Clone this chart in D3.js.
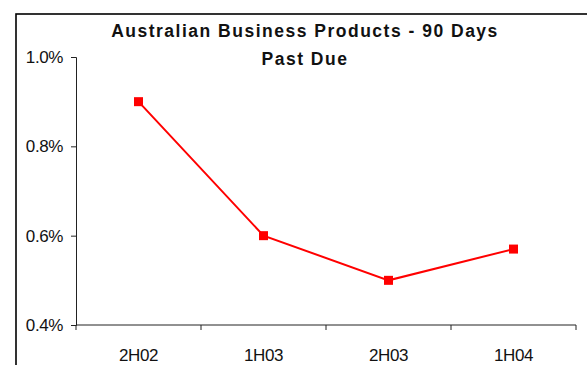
<!DOCTYPE html>
<html>
<head>
<meta charset="utf-8">
<script src="https://cdn.jsdelivr.net/npm/d3@7"></script>
<style>
  html, body { margin: 0; padding: 0; background: #fff; }
  svg { display: block; font-family: "Liberation Sans", Arial, sans-serif; }
</style>
</head>
<body>
<svg id="chart" width="587" height="365"></svg>
<script>
// Half-year periods and 90-days-past-due ratio (%)
const periods = ["2H02", "1H03", "2H03", "1H04"];
const pastDue = [0.90, 0.60, 0.50, 0.57];
const yTicks = [0.4, 0.6, 0.8, 1.0];
const titleLines = ["Australian Business Products - 90 Days", "Past Due"];

const svg = d3.select("#chart");
const plot = { left: 76, right: 576, top: 57, bottom: 325 };

// Outer chart frame (runs off the right and bottom edges)
svg.append("rect")
  .attr("x", 16).attr("y", 14)
  .attr("width", 600).attr("height", 400)
  .attr("fill", "none").attr("stroke", "#000").attr("stroke-width", 1.6);

const x = d3.scaleBand().domain(periods).range([plot.left, plot.right]);
const y = d3.scaleLinear().domain([0.4, 1.0]).range([plot.bottom, plot.top]);

// Y axis
const yAxis = svg.append("g")
  .attr("transform", `translate(${plot.left},0)`)
  .call(d3.axisLeft(y).tickValues(yTicks).tickSize(5).tickPadding(8)
    .tickFormat(d => d.toFixed(1) + "%"));
yAxis.select(".domain").attr("stroke", "#222");
yAxis.selectAll(".tick line").attr("stroke", "#222");
yAxis.selectAll("text")
  .attr("font-size", 17).attr("fill", "#111")
  .attr("font-family", "'Liberation Sans', Arial, sans-serif")
  .attr("letter-spacing", -0.4);

// X axis with tick marks at category boundaries
const xAxisG = svg.append("g").attr("transform", `translate(0,${plot.bottom})`);
xAxisG.append("line")
  .attr("x1", plot.left).attr("x2", plot.right)
  .attr("stroke", "#222");
const bounds = periods.map(p => x(p)).concat([x(periods[periods.length - 1]) + x.bandwidth()]);
xAxisG.selectAll(".bt").data(bounds).join("line")
  .attr("x1", d => d).attr("x2", d => d)
  .attr("y1", 0).attr("y2", 5)
  .attr("stroke", "#222");
xAxisG.selectAll(".lbl").data(periods).join("text")
  .attr("x", d => x(d) + x.bandwidth() / 2)
  .attr("y", 36)
  .attr("text-anchor", "middle")
  .attr("font-size", 17).attr("fill", "#111")
  .attr("letter-spacing", -0.4)
  .text(d => d);

// Series line and square markers
const cx = d => x(d) + x.bandwidth() / 2;
const line = d3.line().x((d, i) => cx(periods[i])).y(d => y(d));
svg.append("path")
  .datum(pastDue)
  .attr("d", line)
  .attr("fill", "none")
  .attr("stroke", "#ff0000")
  .attr("stroke-width", 2);
svg.selectAll(".mk").data(pastDue).join("rect")
  .attr("x", (d, i) => cx(periods[i]) - 4.5)
  .attr("y", d => y(d) - 4.5)
  .attr("width", 9).attr("height", 9)
  .attr("fill", "#ff0000");

// Title
svg.append("text")
  .attr("x", 305).attr("y", 37)
  .attr("text-anchor", "middle")
  .attr("font-size", 17.5).attr("font-weight", "bold")
  .attr("letter-spacing", 1.5)
  .attr("fill", "#111")
  .selectAll("tspan").data(titleLines).join("tspan")
  .attr("x", 305)
  .attr("dy", (d, i) => i === 0 ? 0 : 28)
  .text(d => d);
</script>
</body>
</html>
